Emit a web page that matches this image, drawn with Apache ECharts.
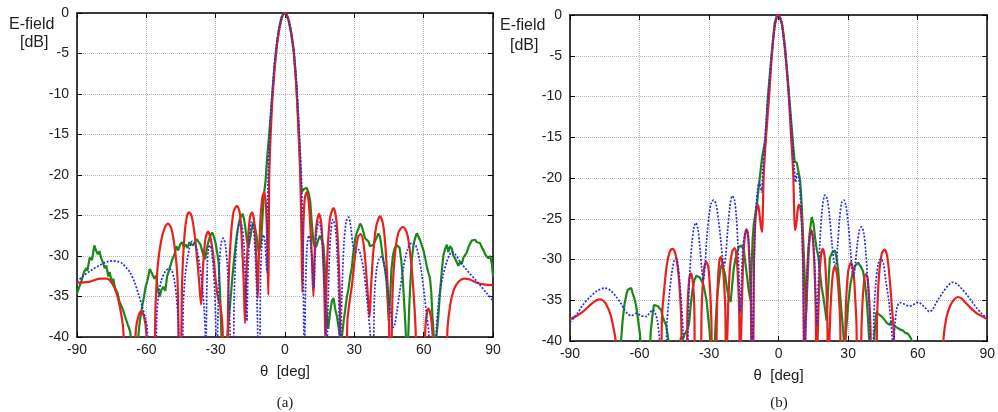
<!doctype html>
<html>
    <head>
        <meta charset="utf-8">
        <style>
            html, body { margin: 0; padding: 0; background: #fff; }
            #main { width: 998px; height: 412px; }
        </style>
    </head>
    <body>
        <div id="main"></div>
        <script src="https://cdn.jsdelivr.net/npm/echarts@6/dist/echarts.min.js"></script>
        <script>
            // theta [deg], E-field [dB]; values below -40 fall outside the plot
            var redA = [
                [-90,-33.3],[-85,-33.2],[-80,-32.8],[-77,-32.8],[-75,-33.3],[-73,-34.5],[-71.5,-36.2],[-70,-39],[-69,-45],
                [-65.5,-45],[-64.5,-39],[-63.2,-37.2],[-62.2,-36.8],[-61,-37.5],[-60,-39.5],[-59.3,-45],
                [-57,-45],[-56,-36],[-55,-31],[-53.5,-28],[-52,-26.5],[-50.6,-26],[-49,-26.8],[-47.5,-29.5],[-46.5,-33],[-45.6,-45],
                [-45.2,-45],[-44.5,-33],[-43.5,-27.5],[-42.5,-25.2],[-41.5,-24.6],[-40.5,-25],[-39.5,-26.5],[-38.3,-29.5],[-37.2,-33],[-36.3,-36],
                [-35.5,-31.5],[-34.5,-28],[-33.3,-27],[-32.2,-27.8],[-31,-30],[-30,-33],[-29,-35.2],[-28,-36],[-27,-39],[-26.5,-45],
                [-25.2,-45],[-24.5,-34],[-23.5,-28],[-22.3,-24.6],[-20.8,-23.8],[-19.5,-24.8],[-18.7,-28],[-17.9,-33],[-17.3,-38.3],
                [-16.8,-33],[-16,-28],[-15.2,-25.3],[-14.3,-24.6],[-13.4,-25.5],[-12.7,-28.5],[-12.2,-32],[-11.8,-35.2],
                [-11.3,-30],[-10.6,-25.5],[-9.8,-22.8],[-9,-22.1],[-8.3,-23.5],[-7.7,-28],[-7.2,-34.8],
                [-7.0,-27],[-6.8,-20],[-6.2,-15],[-5.3,-10],[-3.9,-5],[-2.8,-2.6],[-1.8,-1.1],[-0.8,-0.2],[0,0],
                [0.8,-0.2],[1.8,-1.1],[2.8,-2.6],[3.9,-5],[5.1,-10],[5.9,-15],[6.6,-20],[7.1,-27],[7.5,-34.5],
                [7.9,-27],[8.5,-23],[9.4,-22.1],[10.2,-23.2],[10.9,-26],[11.6,-30],[12.3,-35],
                [12.8,-30],[13.5,-26.5],[14.7,-24.8],[15.7,-26],[16.4,-29.5],[17,-34],[17.5,-41],
                [17.8,-35],[18.5,-29],[19.5,-25.3],[21,-24.1],[22.2,-25.5],[23,-29],[23.7,-35],[24.2,-45],
                [26.3,-45],[27,-38],[28,-35.5],[29,-33.5],[30.5,-29.5],[31.7,-27.6],[32.8,-27.3],[34,-28.5],[35,-31.5],[36,-35.5],[36.6,-37.5],
                [37.2,-34],[38.2,-29.5],[39.5,-26.3],[41.1,-25.1],[42.5,-26.2],[43.5,-29],[44.3,-33],[45,-38],[45.4,-45],
                [45.8,-45],[46.5,-35],[47.5,-30],[49,-27.2],[51,-26.4],[52.8,-27.2],[54.3,-30],[55.5,-34],[56.5,-39],[57,-45],
                [60,-45],[60.7,-39],[61.4,-37],[62.1,-36.5],[63,-37.3],[63.8,-39.5],[64.3,-45],
                [69.7,-45],[70.3,-39],[71.5,-36],[73,-34.2],[75,-33.2],[77.5,-32.8],[80,-32.9],[83,-33.3],[86,-33.5],[90,-33.6]
            ];
            var greenA = [
                [-90,-34.6],[-89,-33.8],[-88,-33],[-87,-32],[-86,-31.5],[-85.5,-31.8],[-84.5,-30.2],[-83.5,-30.5],[-82.5,-28.7],[-81.8,-29.3],
                [-81,-29.8],[-80.3,-29.4],[-79.5,-30.3],[-78.8,-30.8],[-78,-31.5],[-77.3,-31.2],[-76.5,-32.5],[-75.8,-32],[-75,-33.3],[-74.3,-32.8],
                [-73.5,-34],[-72.5,-34.5],[-71.8,-35.5],[-71,-35.3],[-70.3,-36.5],[-69.5,-37.2],[-68.8,-37],[-68,-38.5],[-67,-39.3],[-66.3,-41],
                [-65,-41],[-63.8,-41],[-63,-38.5],[-62,-36.5],[-61,-35],[-60.3,-33.8],[-59.5,-33],[-58.5,-31.6],[-57.5,-32.2],[-56.5,-32.8],
                [-55.7,-32.4],[-55,-34.2],[-54.2,-35],[-53.5,-34.2],[-52.7,-33.8],[-51.8,-34.3],[-51,-32.5],[-50.2,-31.8],[-49.4,-31],[-48.6,-30.3],
                [-47.8,-29.8],[-47,-28.8],[-46.2,-29.3],[-45.4,-28.6],[-44.6,-28.3],[-43.8,-28.9],[-43,-28.6],[-42.2,-29],[-41.4,-28.3],[-40.6,-28.1],
                [-39.8,-28.7],[-39,-28.3],[-38.2,-27.9],[-37.4,-27.8],[-36.6,-28.6],[-35.9,-29.3],[-35.2,-30],[-34.5,-30.4],[-33.8,-29],[-33,-28.1],
                [-32.2,-27.4],[-31.5,-27.1],[-30.8,-27.6],[-30.1,-28.3],[-29.4,-29.5],[-28.7,-30.8],[-28.2,-34],[-27.7,-38],[-27.3,-42],
                [-26,-42],[-25,-40],[-24.4,-38],[-23.7,-35.8],[-22.9,-33],[-22.2,-30.9],[-21.5,-29],[-20.8,-27.3],[-20,-26],[-19.3,-25.2],
                [-18.3,-24.8],[-17.7,-25.5],[-17.2,-26.4],[-16.6,-27.8],[-16,-28.9],[-15.5,-28.5],[-15,-27.7],[-14.3,-26.5],[-13.6,-25.8],[-13,-26.4],
                [-12.4,-27.3],[-11.9,-28.5],[-11.4,-29.5],[-10.8,-29],[-10.3,-28.1],[-9.7,-25],[-9.2,-22.7],[-8.4,-20.7],[-7.8,-18.1],
                [-7,-15.5],[-6.3,-13],[-5.5,-10],[-4.5,-6.5],[-3.5,-3.8],[-2.5,-1.8],[-1.5,-0.5],[-0.5,0],[0.5,-0.2],[1.5,-0.9],
                [2.6,-2.4],[3.7,-4.6],[4.8,-8.5],[5.6,-12.5],[6.3,-16.5],[6.9,-21],
                [7.2,-22.1],[8.3,-21.7],[9.4,-21.6],[10.2,-22.2],[10.9,-23.2],[11.6,-26],[12.3,-28.3],[13,-29],[13.7,-28.7],[14.4,-28],
                [15.1,-27.5],[15.9,-28],[16.6,-28.6],[17.2,-31],[17.7,-35.3],[18.3,-38.2],[18.7,-39],[19.5,-37],[20.3,-35.5],[21,-35.2],
                [21.7,-36.5],[22.5,-37.5],[23.3,-39],[24,-40.5],[24.7,-39.8],[25.4,-38],[26.1,-36.5],[26.8,-35],[27.5,-34],[28.2,-32.5],
                [28.9,-31.5],[29.6,-29.5],[30.3,-28],[31,-27.2],[31.7,-26.7],[32.5,-26],[33.2,-26.3],[33.9,-27],[34.6,-27.8],[35.4,-27.6],
                [36.1,-28.2],[36.8,-28.8],[37.6,-29],[38.3,-28.6],[39,-28.5],[39.7,-27.7],[40.4,-27.2],[41.1,-27.6],[41.8,-29],[42.5,-30.5],
                [43.2,-31.5],[43.9,-33],[44.4,-35.5],[44.9,-38],[45.5,-35],[46.1,-31.5],[46.8,-29.8],[47.5,-29],[48.2,-28.6],[48.9,-28.4],
                [49.6,-29],[50.3,-30.5],[50.9,-32.5],[51.5,-35.5],[52.1,-38.5],[52.6,-42],[53.2,-41],[53.8,-36],[54.3,-33],[54.9,-30.3],
                [55.6,-28.6],[56.3,-27.8],[57,-27.2],[57.7,-27],[58.4,-28],[59.1,-28.6],[59.9,-29.3],[60.6,-30.2],[61.3,-31.2],[62,-32],
                [62.7,-32.7],[63.3,-34.5],[63.8,-37.5],[64.3,-39.5],[64.8,-42],[65.6,-42],[66.2,-38],[67,-34.8],[67.8,-32],[68.5,-30],
                [69.2,-29.2],[70,-28.6],[70.7,-29.5],[71.4,-28.8],[72.2,-29.1],[72.9,-30],[73.6,-30.3],[74.3,-30.5],[75,-31.2],[75.8,-30.7],
                [76.5,-31],[77.2,-30.2],[77.9,-29.9],[78.6,-29.6],[79.4,-28.9],[80.1,-28.5],[80.8,-28.1],[81.5,-27.9],[82.3,-28],[83,-28.3],
                [83.7,-28.2],[84.4,-28.4],[85.1,-28.9],[85.9,-29.3],[86.6,-29.8],[87.3,-29.7],[88,-30.3],[88.8,-30],[89.5,-31],[90,-32.5]
            ];
            var blueA = [
                [-90,-33.2],[-87,-32.4],[-83.5,-31.7],[-80,-31.1],[-77,-30.7],[-74.5,-30.6],[-72,-30.7],[-70.5,-30.9],[-68.5,-31.5],[-66.9,-32.1],
                [-65,-33.3],[-63.3,-34.8],[-61.8,-36.2],[-60.4,-37.7],[-59.6,-39],[-59.2,-45],
                [-56.1,-45],[-55.5,-37.5],[-54.7,-34.8],[-53.5,-33],[-52,-32],[-50.5,-31.6],[-49.2,-31.7],[-48,-32.8],[-47,-35],[-46.2,-38],[-45.6,-45],
                [-44.6,-45],[-44,-36],[-43.2,-32.5],[-42.4,-30.7],[-41.3,-29],[-40.2,-28.2],[-39.1,-28.4],[-38.1,-29.3],[-37,-31],[-35.9,-33.4],[-35,-36.5],[-34.5,-39.5],[-34.2,-45],
                [-34.3,-45],[-34,-38],[-33.6,-31],[-33.1,-29],[-32.4,-28.7],[-31.7,-29.5],[-31,-31.5],[-30.4,-34.5],[-30,-38],[-29.6,-45],
                [-29.4,-45],[-28.9,-36],[-28.3,-30.5],[-27.5,-28.3],[-26.7,-27.8],[-25.8,-28.6],[-25,-31],[-24.3,-35],[-23.8,-39],[-23.5,-45],
                [-22.5,-45],[-22,-35],[-21.3,-30],[-20.4,-26.8],[-19.5,-25.8],[-18.6,-26.3],[-17.8,-28.5],[-17.2,-32],[-16.8,-36],[-16.5,-38],
                [-16,-32],[-15.3,-27.5],[-14.5,-25.8],[-13.7,-26.5],[-13,-29],[-12.4,-33],[-11.9,-38],[-11.5,-45],
                [-11,-45],[-10.6,-33],[-10,-28.5],[-9.3,-27.4],[-8.6,-28.5],[-8.1,-31],[-7.8,-32],
                [-7.6,-25],[-7.2,-19],[-6.6,-15],[-5.8,-11],[-4.8,-7],[-3.8,-4.2],[-2.7,-2],[-1.5,-0.6],[-0.3,0],[0.9,-0.4],
                [2,-1.4],[3.1,-3.2],[4.1,-5.5],[5.1,-9],[5.9,-13],[6.6,-17],[7.2,-21],[7.7,-28],[8.1,-38],[8.4,-45],
                [8.6,-45],[8.9,-34],[9.5,-29],[10.3,-27.5],[11.1,-28.5],[11.8,-31],[12.5,-34],[13,-30],[13.7,-27],[14.6,-25.8],
                [15.5,-26.5],[16.3,-29],[17,-33],[17.6,-38],[18,-45],
                [18.3,-45],[18.8,-34],[19.6,-28],[20.7,-25.5],[21.8,-26.5],[22.6,-30],[23.3,-35],[23.8,-45],
                [24.1,-45],[24.6,-35],[25.5,-28.5],[26.5,-25.7],[27.5,-25.2],[28.5,-26.5],[29.6,-29],[30.7,-29.5],[31.8,-29.2],[32.8,-30],
                [33.9,-31.5],[35,-34],[36.1,-37.2],[37,-40],[37.6,-45],
                [38.1,-45],[38.7,-35],[39.7,-31.5],[40.8,-30.3],[41.8,-30.1],[43,-31.2],[44,-33],[45.1,-35.8],[46.2,-38],[46.9,-38.8],
                [47.6,-38.3],[48.3,-37.1],[49.6,-34.5],[51.2,-31.5],[53,-29.2],[54.8,-28.4],[56,-28.5],[57,-29],[58.2,-30.5],[59.2,-32.3],
                [60.3,-34.8],[61.3,-37.3],[62.2,-39.5],[62.8,-45],
                [65.1,-45],[65.5,-39],[66.2,-36.5],[67,-34.4],[68.5,-32.3],[70,-30.7],[71,-30],[72.1,-29.5],[74,-29.9],[75.7,-30.7],
                [78,-31.5],[80.1,-32.2],[82.3,-32.9],[84.4,-33.6],[87,-34.5],[90,-35.5]
            ];

            var redB = [
                [-90,-37.3],[-87,-36.9],[-84,-36.3],[-81,-35.5],[-78.5,-35],[-77,-34.9],[-75.5,-35.1],[-74,-35.7],[-72.5,-36.8],[-71.3,-38.3],[-70.3,-40],[-69.8,-45],
                [-51,-45],[-50.3,-37],[-49.3,-33.5],[-48.2,-30.6],[-47,-29.1],[-45.9,-28.7],[-45,-28.9],[-44,-30],[-43.2,-31.8],[-42.6,-34],[-42,-37.5],[-41.5,-45],
                [-39.8,-45],[-39.3,-36],[-38.6,-32.5],[-37.9,-31.7],[-37.1,-32.5],[-36.4,-35.5],[-35.8,-45],
                [-33.8,-45],[-33.2,-36],[-32.3,-31.5],[-31.3,-30.3],[-30.4,-30.8],[-29.6,-33.5],[-29,-37.5],[-28.5,-45],
                [-27.3,-45],[-26.5,-35],[-25.7,-30.5],[-25,-29.7],[-24.2,-30.5],[-23.5,-33],[-23,-36],[-22.6,-45],
                [-22.3,-45],[-21.8,-36],[-21,-31],[-20,-29],[-19,-28.6],[-18.2,-29.5],[-17.5,-32.5],[-17,-36.5],[-16.6,-45],
                [-16.3,-45],[-15.8,-35],[-15.1,-29],[-14.4,-26.8],[-13.8,-26.3],[-13.2,-27],[-12.6,-30],[-12,-35],[-11.5,-45],
                [-11.1,-45],[-10.6,-30],[-10,-25],[-9.4,-23.6],[-8.9,-23.3],[-8.3,-24.3],[-7.6,-26],[-7.1,-26.6],[-6.8,-24],[-6.4,-19.4],
                [-5.3,-14.5],[-4,-9.6],[-2.9,-4.9],[-1.7,-1.4],[-0.6,-0.1],[0,0],[0.4,-0.2],[1.4,-1],[2.9,-4.7],[4.3,-9.6],
                [5.3,-14.5],[6.3,-19.4],[6.7,-24],[7.1,-26.4],[7.7,-25.5],[8.2,-24],[8.7,-23.3],[9.3,-23.6],[10,-25.2],[10.6,-30],[11.1,-45],
                [11.4,-45],[12,-35],[12.7,-29.5],[13.4,-27],[14,-26.4],[14.7,-27.2],[15.4,-30.5],[16,-36],[16.4,-45],
                [16.7,-45],[17.3,-35],[18.1,-30],[19,-28.7],[19.8,-29.5],[20.5,-32.5],[21,-37],[21.4,-45],
                [21.7,-45],[22.4,-36],[23.4,-31.8],[24.3,-30.9],[25.2,-31.8],[26,-34.5],[26.6,-38],[26.9,-45],
                [28.3,-45],[29,-36],[30,-31.5],[31.2,-30.4],[32.3,-31.5],[33,-34.5],[33.6,-38],[34,-45],
                [35.2,-45],[35.8,-38],[36.6,-33.5],[37.6,-31.8],[38.4,-32.3],[39.2,-35.5],[39.7,-39],[40,-45],
                [41.9,-45],[42.5,-37],[43.3,-32],[44.5,-29.3],[45.7,-28.8],[46.8,-29.5],[47.8,-32],[48.8,-35.5],[49.7,-39],[50.4,-45],
                [70.5,-45],[71.2,-39.5],[72.5,-37],[74,-35.7],[75.7,-34.9],[77.3,-34.6],[79,-34.8],[81,-35.4],[83,-36],[85.5,-36.6],[88,-37],[90,-37.3]
            ];
            var greenB = [
                [-68.6,-45],[-68,-40],[-67.3,-37.5],[-66.5,-35.5],[-65.6,-34.2],[-65,-33.7],[-64.3,-33.8],[-63.6,-33.5],[-62.9,-34.2],[-62.2,-34.8],
                [-61.4,-35.8],[-60.6,-37.5],[-59.8,-39.2],[-59.2,-42],
                [-55.8,-42],[-55.2,-39],[-54.5,-37],[-53.8,-35.6],[-53,-35.4],[-52.2,-35.7],[-51.4,-35.6],[-50.7,-36.2],[-50,-37],[-49.3,-37.6],
                [-48.6,-38],[-48,-39],[-47.3,-40.5],
                [-43,-41],[-42.1,-39.5],[-41.3,-39.8],[-40.6,-39.2],[-40,-39],[-39.2,-38.5],[-38.6,-37.8],[-37.9,-35.5],[-37.1,-33.6],[-36.3,-32.5],
                [-35.5,-32],[-34.7,-31.9],[-34,-32.2],[-33.2,-32.4],[-32.5,-33],[-31.8,-34],[-31.1,-35],[-30.4,-37],[-29.7,-39],[-29.2,-42],
                [-27.8,-42],[-27.2,-38],[-26.5,-34.5],[-25.7,-32.5],[-25,-31],[-24.3,-30.5],[-23.6,-30.7],[-23,-32],[-22.3,-33.5],[-21.5,-34.6],
                [-20.7,-35.2],[-20,-33],[-19.3,-31],[-18.6,-29.9],[-17.8,-29],[-17.1,-28.4],[-16,-28.3],[-15,-28.8],[-14.3,-30.5],[-13.6,-32.1],
                [-12.8,-34],[-12.1,-35],[-11.6,-30.5],[-11.2,-27.5],[-10.7,-25.6],[-10,-24.3],[-9.3,-23.1],[-8.6,-21.2],[-7.9,-19.4],[-7.1,-17.4],
                [-5.7,-15.3],[-4.6,-10],[-3.1,-5],[-1.7,-1],[-0.7,0],[0.5,-0.3],[1.6,-1.3],[2.8,-4],[4,-8],[5,-11.5],
                [6,-15],[6.9,-18],[7.8,-18.1],[8.6,-18.2],[9.3,-20.3],[10,-23.5],[10.6,-27.5],[11.1,-31],[11.5,-34],[11.9,-36.5],
                [12.4,-33],[12.9,-29.5],[13.5,-26.5],[14.3,-24.8],[15,-25.5],[15.8,-27.5],[16.5,-28.8],[17.1,-29.6],[17.8,-31.5],[18.6,-33.5],
                [19.3,-34.6],[20,-36],[20.7,-37.5],[21.3,-34],[22.1,-29.8],[23.2,-29.1],[24.3,-28.9],[25,-29.8],[25.7,-31.3],[26.4,-33.8],
                [27.1,-36.3],[27.8,-38.5],[28.4,-41],[29.2,-38.5],[30,-35.5],[31,-33],[32.1,-31.4],[33.2,-30.7],[34.3,-30.4],[35.3,-30.8],
                [36.4,-31.4],[37.2,-32.8],[37.9,-34.6],[38.5,-37],[39.1,-40],[39.6,-42],
                [41,-42],[41.4,-39],[42.1,-36.5],[42.9,-36.4],[43.6,-36.8],[44.5,-37],[45.7,-37.4],[46.8,-37.8],[47.9,-38],[48.6,-37.6],
                [49.3,-37.6],[50.2,-38.2],[51.4,-38.4],[52.5,-38.6],[53.6,-38.7],[54.6,-39],[55.7,-39.1],[56.5,-39.4],[57.1,-39.7],[57.8,-40.2],[58.6,-41]
            ];
            var blueB = [
                [-90,-37.7],[-87,-36.7],[-84.5,-35.6],[-81.4,-34.6],[-78,-33.8],[-75,-33.5],[-72.5,-33.8],[-70,-34.6],[-68,-35.4],[-66.4,-36.2],
                [-65,-36.7],[-63.5,-36.9],[-61.5,-36.6],[-59.3,-36.9],[-57.1,-37],[-55.5,-36.5],[-54.3,-36.2],[-53.2,-36.6],[-52.3,-37.5],[-51.4,-39.8],[-51,-45],
                [-48.8,-45],[-48.2,-38],[-47.2,-34.5],[-46,-31.5],[-45,-30.1],[-44.2,-29.9],[-43.4,-30.8],[-42.7,-32.6],[-41.9,-35.5],[-41.2,-39],[-40.8,-45],
                [-39.4,-45],[-39,-37],[-38.3,-31.5],[-37.4,-28],[-36.5,-26],[-35.7,-25.5],[-34.8,-26.3],[-34,-28.3],[-33.2,-31],[-32.5,-32.5],
                [-31.8,-31],[-31,-27.5],[-30,-24.5],[-29,-23],[-28,-22.7],[-27,-23.2],[-26,-25],[-25,-27.5],[-24.2,-29.8],[-23.5,-30.8],
                [-22.8,-29.5],[-22,-26.5],[-21,-23.5],[-20,-22.2],[-19.1,-22.6],[-18.3,-24.5],[-17.6,-28],[-17,-33],[-16.6,-36.5],[-16.2,-34],
                [-15.5,-29],[-14.7,-27],[-13.8,-26.4],[-13,-27.5],[-12.3,-31],[-11.8,-36],[-11.4,-45],
                [-11.1,-45],[-10.6,-31],[-10,-25],[-9.1,-21.5],[-8.3,-20.5],[-7.4,-21.7],[-6.8,-19],[-6.1,-16],[-5.2,-12.5],[-4.1,-8.5],
                [-3,-5],[-1.8,-1.8],[-0.6,-0.2],[0.4,-0.2],[1.6,-1.6],[2.8,-4.5],[4,-8.3],[5.1,-12.2],[6.1,-16],[6.8,-19],
                [7.3,-20.5],[8,-19.5],[8.7,-20],[9.3,-21.9],[10,-26],[10.7,-35],[11.1,-45],
                [11.4,-45],[11.9,-35],[12.6,-30],[13.4,-27.2],[14.1,-26.5],[14.8,-27.3],[15.5,-30],[16.1,-35],[16.5,-38],[17,-34],
                [17.8,-28],[18.8,-23.8],[20,-22.1],[21,-22.6],[22,-24.8],[23,-28],[24,-30.5],[24.6,-30.8],[25.4,-28.5],[26.3,-25],
                [27.2,-23],[28.1,-22.7],[29,-23.3],[30,-25.5],[31,-28.8],[31.8,-31.5],[32.4,-32],[33.1,-30.5],[34,-28],[34.9,-26.4],
                [35.8,-26],[36.7,-26.7],[37.6,-29],[38.5,-33],[39.3,-37],[39.8,-45],
                [40.6,-45],[41.1,-37],[41.9,-33],[43,-30.5],[44.2,-29.9],[45.2,-30.5],[46.2,-32.5],[47.5,-35],[48.6,-38],[49.4,-40.5],
                [50.2,-38],[51,-36],[52.2,-35.3],[53.6,-35.4],[55,-35.6],[56.4,-35.7],[58,-35.6],[59.5,-35.3],[60.7,-35.3],[62,-35.6],
                [63.5,-36],[65,-36.4],[66.3,-36.2],[67.8,-35.4],[69.3,-34.7],[71,-34],[72.8,-33.3],[75,-32.8],[77,-33],[79.3,-33.7],
                [82,-34.6],[85,-35.8],[87.5,-36.6],[90,-37.2]
            ];

            var panelLabels = ['(a)', '(b)'];
            var yTitle = ['E-field', '[dB]'];
            var xTitle = '\u03b8  [deg]';

            var RED = '#e8211d', GREEN = '#1b871b', BLUE = '#2a2ee0';
            var FONT = 'Liberation Sans, Arial, sans-serif';

            function frameLine() {
                return { show: true, onZero: false, lineStyle: { color: '#000', width: 1.5 } };
            }
            function mainX(grid) {
                return {
                    type: 'value', gridIndex: grid, min: -90, max: 90, interval: 30, position: 'bottom',
                    name: xTitle, nameLocation: 'middle', nameGap: 27,
                    nameTextStyle: { fontSize: 15, color: '#222', fontFamily: FONT },
                    axisLine: frameLine(),
                    axisTick: { show: true, inside: true, length: 5, lineStyle: { color: '#000' } },
                    axisLabel: { fontSize: 14, color: '#222', fontFamily: FONT, margin: 6 },
                    splitLine: { show: true, lineStyle: { color: '#b8b8b8', type: 'dotted', width: 1 } }
                };
            }
            function mirrorX(grid) {
                return {
                    type: 'value', gridIndex: grid, min: -90, max: 90, interval: 30, position: 'top',
                    axisLine: frameLine(),
                    axisTick: { show: true, inside: true, length: 5, lineStyle: { color: '#000' } },
                    axisLabel: { show: false }, splitLine: { show: false }
                };
            }
            function mainY(grid) {
                return {
                    type: 'value', gridIndex: grid, min: -40, max: 0, interval: 5, position: 'left',
                    axisLine: frameLine(),
                    axisTick: { show: true, inside: true, length: 5, lineStyle: { color: '#000' } },
                    axisLabel: { fontSize: 14, color: '#222', fontFamily: FONT, margin: 8 },
                    splitLine: { show: true, lineStyle: { color: '#b8b8b8', type: 'dotted', width: 1 } }
                };
            }
            function mirrorY(grid) {
                return {
                    type: 'value', gridIndex: grid, min: -40, max: 0, interval: 5, position: 'right',
                    axisLine: frameLine(),
                    axisTick: { show: true, inside: true, length: 5, lineStyle: { color: '#000' } },
                    axisLabel: { show: false }, splitLine: { show: false }
                };
            }
            function curve(data, color, axis, kind) {
                return {
                    type: 'line', data: data, xAxisIndex: axis, yAxisIndex: axis,
                    showSymbol: false, symbol: 'none', clip: true,
                    smooth: kind === 'noisy' ? false : 0.3,
                    lineStyle: kind === 'dotted'
                        ? { color: color, width: 1.7, type: [2, 1.6] }
                        : { color: color, width: 2.2 },
                    z: kind === 'dotted' ? 4 : 3
                };
            }
            function txt(x, y, s, size, family, align) {
                return {
                    type: 'text', x: x, y: y,
                    style: { text: s, fontSize: size, fontFamily: family, fill: '#222',
                             textAlign: align || 'left', textVerticalAlign: 'middle' }
                };
            }

            var chart = echarts.init(document.getElementById('main'));
            chart.setOption({
                animation: false,
                backgroundColor: '#fff',
                grid: [
                    { left: 77, right: 505, top: 13, bottom: 75 },
                    { left: 570, right: 8, top: 15, bottom: 71 }
                ],
                xAxis: [mainX(0), mirrorX(0), mainX(1), mirrorX(1)],
                yAxis: [mainY(0), mirrorY(0), mainY(1), mirrorY(1)],
                series: [
                    curve(greenA, GREEN, 0, 'noisy'),
                    curve(redA, RED, 0, 'solid'),
                    curve(blueA, BLUE, 0, 'dotted'),
                    curve(greenB, GREEN, 2, 'noisy'),
                    curve(redB, RED, 2, 'solid'),
                    curve(blueB, BLUE, 2, 'dotted')
                ],
                graphic: [
                    txt(9, 25, yTitle[0], 16, FONT),
                    txt(20, 43, yTitle[1], 16, FONT),
                    txt(500, 26, yTitle[0], 16, FONT),
                    txt(510, 46, yTitle[1], 16, FONT),
                    txt(285, 403, panelLabels[0], 15, 'Liberation Serif, Times New Roman, serif', 'center'),
                    txt(779, 403, panelLabels[1], 15, 'Liberation Serif, Times New Roman, serif', 'center')
                ]
            });

            window.onresize = chart.resize;
        </script>
    </body>
</html>
